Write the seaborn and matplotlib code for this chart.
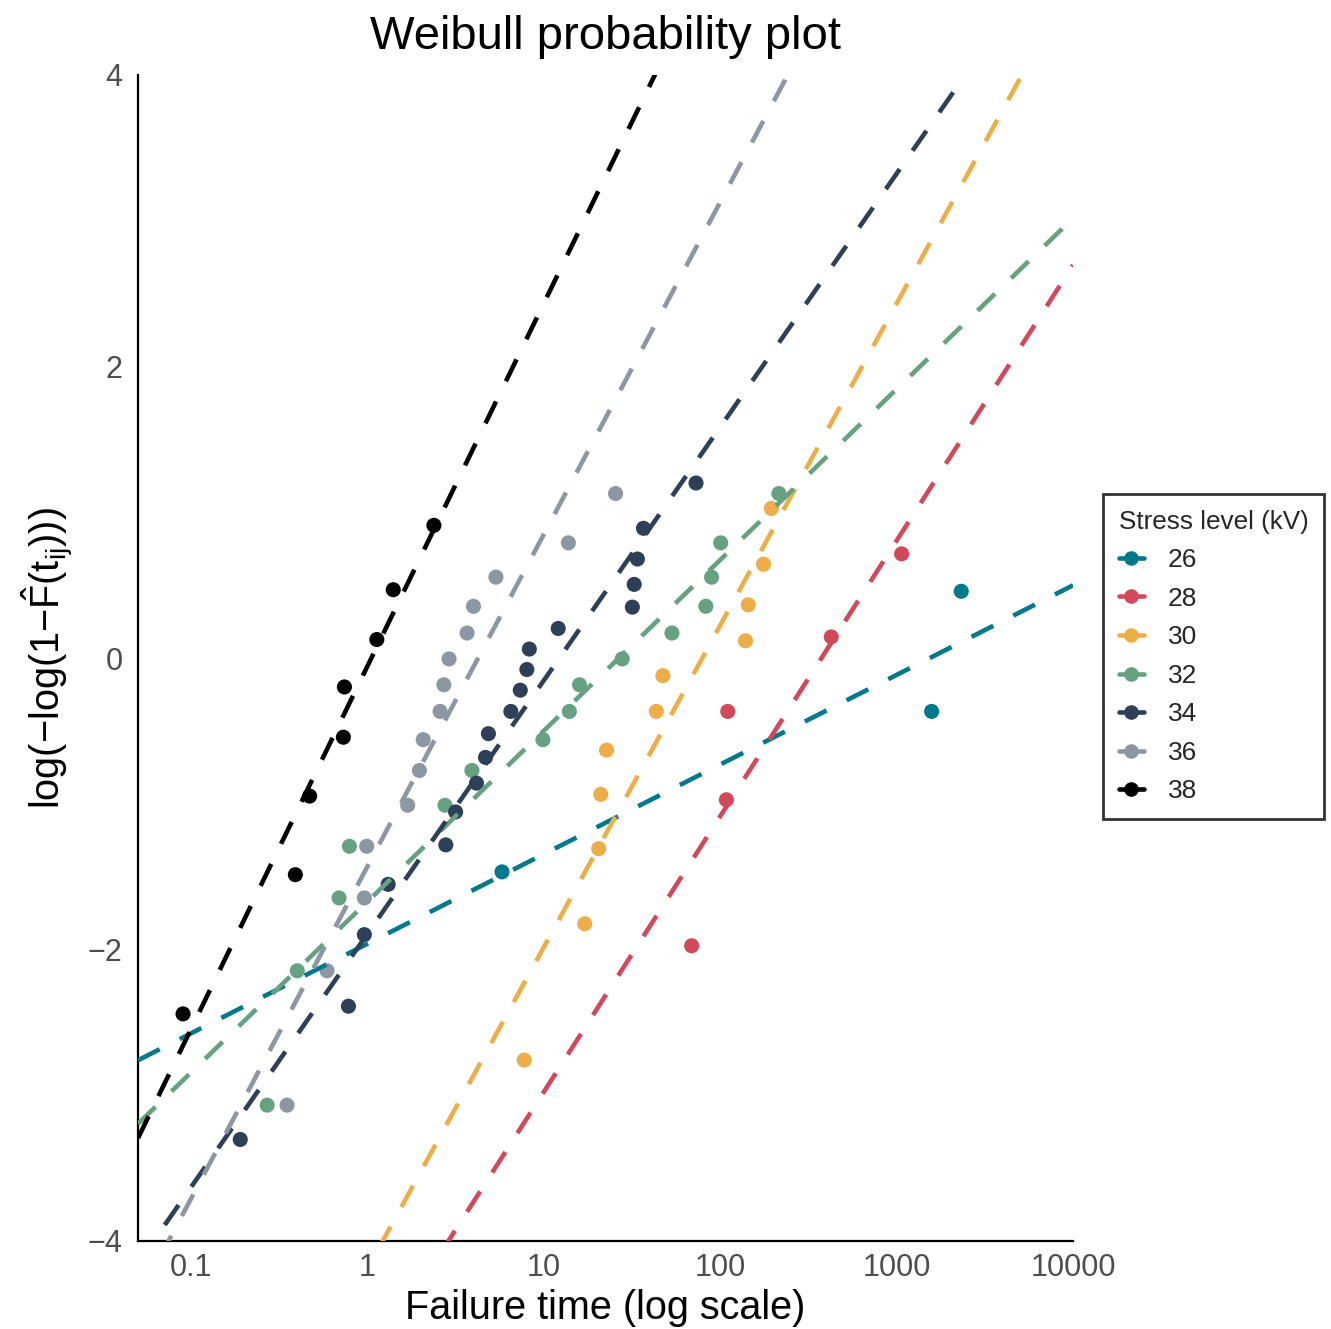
import numpy as np
import pandas as pd
import matplotlib
matplotlib.use("Agg")
import matplotlib.pyplot as plt
import seaborn as sns
from matplotlib.lines import Line2D

# ---- Data: failure times (Nelson insulating fluid) by stress level (kV) ----
stress_levels = [26, 28, 30, 32, 34, 36, 38]
times_26 = [5.79, 1579.52, 2323.7]
times_28 = [68.85, 108.29, 110.29, 426.07, 1067.6]
times_30 = [7.74, 17.05, 20.46, 21.02, 22.66, 43.4, 47.3, 139.07, 144.12, 175.88, 194.9]
times_32 = [0.27, 0.4, 0.69, 0.79, 2.75, 3.91, 9.88, 13.95, 15.93, 27.8, 53.24,
            82.85, 89.29, 100.58, 215.1]
times_34 = [0.19, 0.78, 0.96, 1.31, 2.78, 3.16, 4.15, 4.67, 4.85, 6.5, 7.35, 8.01,
            8.27, 12.06, 31.75, 32.52, 33.91, 36.71, 72.89]
times_36 = [0.35, 0.59, 0.96, 0.99, 1.69, 1.97, 2.07, 2.58, 2.71, 2.9, 3.67, 3.99,
            5.35, 13.77, 25.5]
times_38 = [0.09, 0.39, 0.47, 0.73, 0.74, 1.13, 1.4, 2.38]
colors = ["#00798c", "#d1495b", "#edae49", "#66a182", "#2e4057", "#8d96a3", "#000000"]
x_ticks = [0.1, 1, 10, 100, 1000, 10000]
x_tick_labels = ["0.1", "1", "10", "100", "1000", "10000"]
y_ticks = [-4, -2, 0, 2, 4]
x_limits = [0.05, 10000]
y_limits = [-4, 4]

all_times = [times_26, times_28, times_30, times_32, times_34, times_36, times_38]

# ---- Plotting positions (Bernard median ranks) and per-level LS fits ----
pts_rows = []
fit_rows = []
t_grid = np.geomspace(x_limits[0], x_limits[1], 400)
for lvl, tt in zip(stress_levels, all_times):
    t = np.sort(np.asarray(tt, dtype=float))
    n = len(t)
    i = np.arange(1, n + 1)
    F = (i - 0.3) / (n + 0.4)
    y = np.log(-np.log(1 - F))
    for a, b in zip(t, y):
        pts_rows.append({"t": a, "y": b, "kV": str(lvl)})
    slope, intercept = np.polyfit(np.log(t), y, 1)
    for g in t_grid:
        fit_rows.append({"t": g, "y": intercept + slope * np.log(g), "kV": str(lvl)})

pts = pd.DataFrame(pts_rows)
fits = pd.DataFrame(fit_rows)
order = [str(s) for s in stress_levels]
palette = dict(zip(order, colors))

# ---- Style ----
sns.set_theme(style="white")
plt.rcParams["font.family"] = ["Liberation Sans", "DejaVu Sans"]
plt.rcParams["mathtext.fontset"] = "custom"
plt.rcParams["mathtext.rm"] = "Liberation Sans"
plt.rcParams["mathtext.it"] = "Liberation Sans:italic"
plt.rcParams["axes.unicode_minus"] = True

fig = plt.figure(figsize=(13.31, 13.29), dpi=100)
ax = fig.add_axes([138 / 1331, 1 - 1241 / 1329, (1073 - 138) / 1331, (1241 - 75) / 1329])

sns.scatterplot(data=pts, x="t", y="y", hue="kV", hue_order=order, palette=palette,
                s=118, linewidth=0, legend=False, ax=ax, zorder=2)
sns.lineplot(data=fits, x="t", y="y", hue="kV", hue_order=order, palette=palette,
             estimator=None, legend=False, ax=ax, lw=3.3,
             linestyle=(0, (5.3, 4.9)), zorder=3)

ax.set_xscale("log")
ax.set_xlim(*x_limits)
ax.set_ylim(*y_limits)
ax.set_xticks(x_ticks)
ax.set_xticklabels(x_tick_labels)
ax.minorticks_off()
ax.set_yticks(y_ticks)
ax.tick_params(axis="both", length=0, labelsize=22, colors="#4d4d4d")
ax.tick_params(axis="x", pad=9)
ax.tick_params(axis="y", pad=11)

for side in ["top", "right"]:
    ax.spines[side].set_visible(False)
for side in ["left", "bottom"]:
    ax.spines[side].set_color("black")
    ax.spines[side].set_linewidth(1.6)

ax.set_xlabel("Failure time (log scale)", fontsize=28.5, color="black", labelpad=4)
ax.set_ylabel(r"$\mathrm{log({-}log(1{-}\hat{F}(t_{ij})))}$", fontsize=28.5, color="black",
              labelpad=9)
ax.set_title("Weibull probability plot", fontsize=34, color="black", pad=19)

handles = [Line2D([0], [0], color=c, lw=3.3, marker="o", markersize=10.5,
                  markeredgewidth=0) for c in colors]
leg = fig.legend(handles=handles, labels=order, title="Stress level (kV)",
                 loc="center left", bbox_to_anchor=(1103 / 1331, 1 - 656.5 / 1329),
                 borderaxespad=0, fontsize=19, title_fontsize=18.8, frameon=True,
                 fancybox=False, edgecolor="black", handlelength=0.95,
                 handletextpad=0.9, labelspacing=0.55, borderpad=0.6,
                 alignment="left")
leg.get_frame().set_linewidth(2.0)

fig.savefig("out.png", dpi=100, facecolor="white")
